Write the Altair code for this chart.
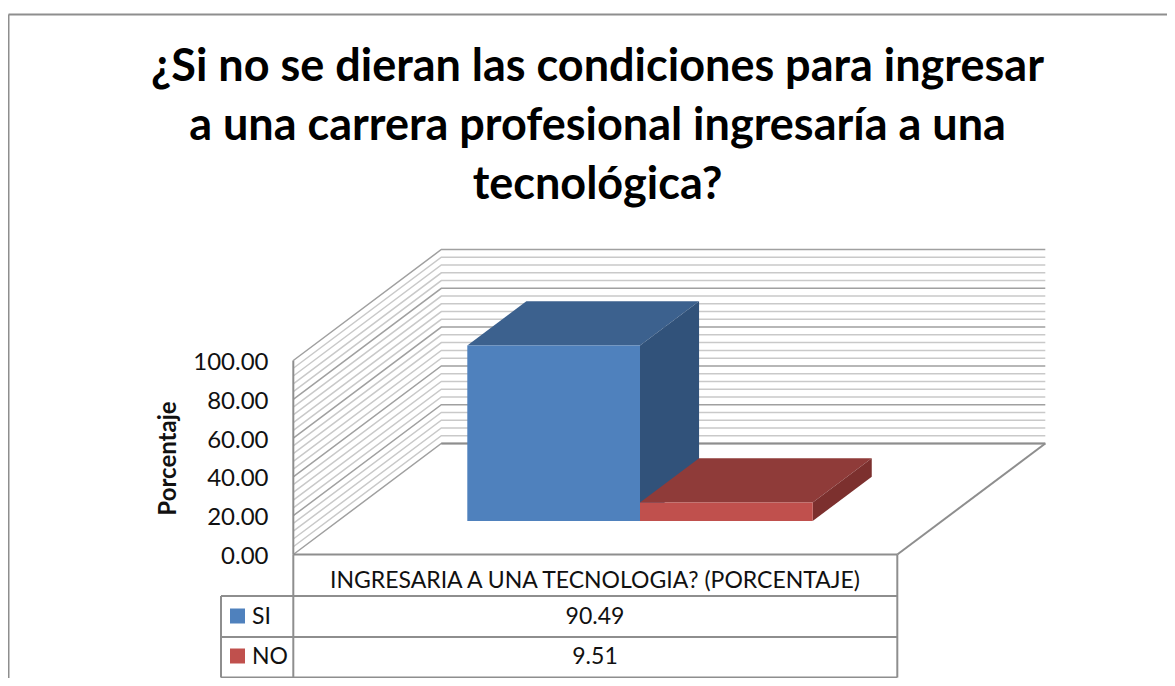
import altair as alt
import pandas as pd

# ---- values ----
series = ["SI", "NO"]
values = [90.49, 9.51]
value_labels = ["90.49", "9.51"]
category = "INGRESARIA A UNA TECNOLOGIA? (PORCENTAJE)"
title_lines = [
    "¿Si no se dieran las condiciones para ingresar",
    "a una carrera profesional ingresaría a una",
    "tecnológica?",
]
y_ticks = [0, 20, 40, 60, 80, 100]
grid_values = list(range(0, 101, 4))
front = {"SI": "#4f81bd", "NO": "#c0504d"}
top = {"SI": "#3c618e", "NO": "#8f3b39"}
side = {"SI": "#31527a", "NO": "#7c302e"}

FONT = "Lato"
GRID_MAJOR = "#a0a0a0"
GRID_MINOR = "#c9c9c9"
EDGE = "#8e8e8e"

# ---- layout: page pixels of the drawing box and the oblique projection ----
W, H = 1159, 670
OX, OY = 293.3, 554.5      # page pixel of the origin (front-left floor corner, value 0)
FLOOR_W = 604.0            # pixels of one floor unit
PX_PER_PCT = 1.94          # pixels per percent
DEPTH_DX, DEPTH_DY = 148.0, 111.0
TABLE_BOTTOM = 677.5

x_domain = [(8 - OX) / FLOOR_W, (8 + W - OX) / FLOOR_W]
y_domain = [(OY - (8 + H)) / PX_PER_PCT, (OY - 8) / PX_PER_PCT]


def proj(u, v, d=0.0):
    return u + d * DEPTH_DX / FLOOR_W, v + d * DEPTH_DY / PX_PER_PCT


def page(xp, yp):
    return (xp - OX) / FLOOR_W, (OY - yp) / PX_PER_PCT


X = alt.X("x:Q", scale=alt.Scale(domain=x_domain, nice=False, zero=False), axis=None)
Y = alt.Y("y:Q", scale=alt.Scale(domain=y_domain, nice=False, zero=False), title="Porcentaje",
          axis=alt.Axis(values=y_ticks, format=".2f", grid=False, domain=False, ticks=False,
                        offset=-260, labelPadding=0, labelFont=FONT, labelFontSize=24,
                        labelOffset=2,
                        labelColor="#111111", labelFontWeight="normal",
                        titleFont=FONT, titleFontSize=24, titleFontWeight="bold",
                        titleColor="#111111", titleX=-88, titleY=450))

# ---- walls ----
grid_rows = []
for v in grid_values:
    kind = "major" if v % 20 == 0 else "minor"
    for i, (u, d) in enumerate([(0, 0), (0, 1), (1, 1)]):
        x, y = proj(u, v, d)
        grid_rows.append({"x": x, "y": y, "v": v, "i": i, "kind": kind})
grid_df = pd.DataFrame(grid_rows)
grid_layer = (
    alt.Chart(grid_df)
    .mark_line(strokeWidth=1.5)
    .encode(
        x=X, y=Y, detail="v:N", order="i:Q",
        color=alt.Color("kind:N", scale=alt.Scale(domain=["major", "minor"],
                                                  range=[GRID_MAJOR, GRID_MINOR]), legend=None),
    )
)

# ---- frame, floor and table lines ----
lines = [
    [page(8.5, 14.5), page(8 + W, 14.5)],
    [page(8.5, 14.5), page(8.5, 8 + H)],
    [proj(0, 0), proj(0, 100)],
    [proj(0, 0), proj(1, 0)],
    [proj(1, 0), proj(1, 0, 1)],
    [proj(0, 0, 1), proj(1, 0, 1)],
    [page(OX, OY), page(OX, TABLE_BOTTOM)],
    [page(897.3, OY), page(897.3, TABLE_BOTTOM)],
    [page(221, 596), page(897.3, 596)],
    [page(221, 637), page(897.3, 637)],
    [page(221, TABLE_BOTTOM), page(897.3, TABLE_BOTTOM)],
    [page(221, 596), page(221, TABLE_BOTTOM)],
]
line_rows = []
for k, seg in enumerate(lines):
    for i, (x, y) in enumerate(seg):
        line_rows.append({"x": x, "y": y, "k": k, "i": i})
line_layer = (
    alt.Chart(pd.DataFrame(line_rows))
    .mark_line(strokeWidth=2, color=EDGE)
    .encode(x=X, y=Y, detail="k:N", order="i:Q")
)

# ---- 3D columns ----
BAR_U0 = (467.3 - OX - 33.5 * DEPTH_DX / DEPTH_DY) / FLOOR_W
BAR_W = 172.7 / FLOOR_W
DEPTH0 = (OY - 521.0) / DEPTH_DY
DEPTH1 = DEPTH0 + 44.3 / DEPTH_DY


def faces(name, index, value):
    u0 = BAR_U0 + index * BAR_W
    u1 = u0 + BAR_W
    rows = []

    def add(face, pts):
        for px, a, b in pts:
            rows.append({"x": px, "y": a, "y2": b, "face": face})

    x00, yb0 = proj(u0, 0, DEPTH0)
    x10, _ = proj(u1, 0, DEPTH0)
    x01, yb1 = proj(u0, 0, DEPTH1)
    x11, _ = proj(u1, 0, DEPTH1)
    yt0 = yb0 + value
    yt1 = yb1 + value
    add("top", [(x00, yt0, yt0), (x01, yt1, yt0), (x10, yt1, yt0), (x11, yt1, yt1)])
    add("side", [(x10, yt0, yb0), (x11, yt1, yb1)])
    add("front", [(x00, yt0, yb0), (x10, yt0, yb0)])
    return pd.DataFrame(rows)


bar_layers = []
for idx, (s, val) in enumerate(zip(series, values)):
    df = faces(s, idx, val)
    for face, palette in [("top", top), ("side", side), ("front", front)]:
        bar_layers.append(
            alt.Chart(df[df.face == face])
            .mark_area(color=palette[s])
            .encode(x=X, y=Y, y2="y2:Q")
        )

# ---- data table ----
row_y = [617, 657]
tx = (595, 581)
text_rows = [{"x": page(*tx)[0], "y": page(*tx)[1], "t": category}]
for s, lab, ry in zip(series, value_labels, row_y):
    p = page(595, ry)
    text_rows.append({"x": p[0], "y": p[1], "t": lab})
table_text = (
    alt.Chart(pd.DataFrame(text_rows))
    .mark_text(font=FONT, fontSize=23, color="#111111", align="center", baseline="middle")
    .encode(x=X, y=Y, text="t:N")
)
swatch_rows = []
label_rows = []
for s, ry in zip(series, row_y):
    p = page(237.5, ry - 1)
    q = page(252, ry)
    swatch_rows.append({"x": p[0], "y": p[1], "s": s})
    label_rows.append({"x": q[0], "y": q[1], "s": s})
swatches = (
    alt.Chart(pd.DataFrame(swatch_rows))
    .mark_square(size=225, opacity=1)
    .encode(x=X, y=Y,
            color=alt.Color("s:N", scale=alt.Scale(domain=series, range=[front[s] for s in series]),
                            legend=None))
)
swatch_text = (
    alt.Chart(pd.DataFrame(label_rows))
    .mark_text(font=FONT, fontSize=23, color="#111111", align="left", baseline="middle")
    .encode(x=X, y=Y, text="s:N")
)

chart = (
    alt.layer(grid_layer, line_layer, *bar_layers, table_text, swatches, swatch_text)
    .resolve_scale(color="independent")
    .properties(
        width=W, height=H, padding=0,
        autosize=alt.AutoSizeParams(type="none"),
        background="white",
        title=alt.TitleParams(
            text=title_lines, font=FONT, fontSize=45, fontWeight="bold", color="#000000",
            lineHeight=59, anchor="middle", dx=10, dy=200, offset=0,
        ),
    )
    .configure_view(stroke=None)
)
chart.save("out.html", embed_options={"renderer": "svg", "actions": False})
